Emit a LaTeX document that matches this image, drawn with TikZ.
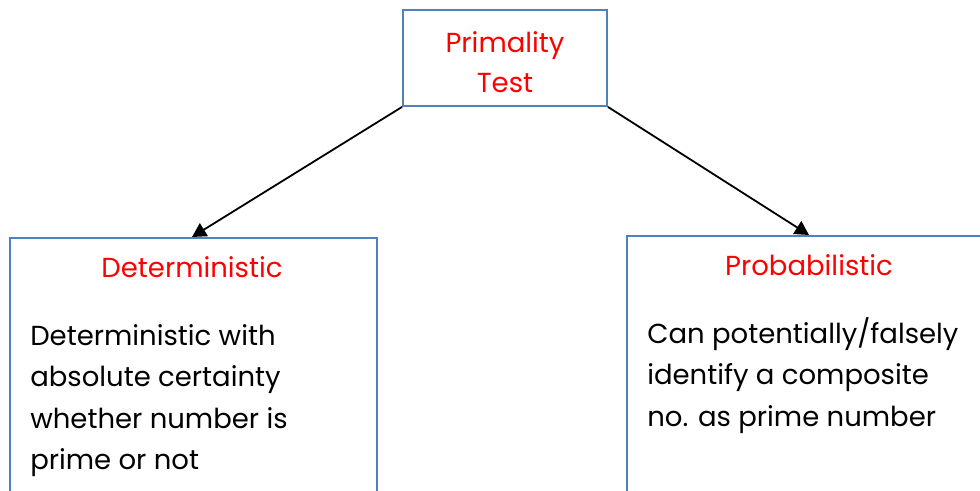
\documentclass[tikz,border=0pt]{standalone}
\usepackage{fontspec}
\setmainfont{Poppins}
\usetikzlibrary{positioning,arrows.meta}
\definecolor{boxblue}{RGB}{79,129,189}
\definecolor{headred}{RGB}{255,0,0}

\begin{document}
\begin{tikzpicture}[x=1pt,y=-1pt,semithick,
    box/.style={draw=boxblue,line width=1.8pt},
    txt/.style={font=\fontsize{27.5}{41.5}\selectfont,inner sep=0pt},
    head/.style={txt,text=headred,align=center,anchor=base},
    body/.style={txt,align=left,anchor=base west},
    link/.style={-{Triangle[length=14pt,width=15pt]},line width=1.8pt}]
      \useasboundingbox (0,0) rectangle (980,490);
      \clip (0,0) rectangle (980,490);
      % boxes
      \node[box,minimum width=204pt,minimum height=96pt] (test) at (505,58) {};
      \node[box,minimum width=367pt,minimum height=300pt,anchor=north west] (det) at (9,237) {};
      \node[box,minimum width=364pt,minimum height=300pt,anchor=north west] (prob) at (626,235) {};
      % texts (base = last line)
      \node[head,font=\fontsize{27.5}{40}\selectfont] (testtext) at (505,92) {Primality\\Test};
      \node[head] (dethead) at (192,277) {Deterministic};
      \node[head] (probhead) at (809,275) {Probabilistic};
      \node[body] (detbody) at (30,469.5) {Deterministic with\\absolute certainty\\whether number is\\prime or not};
      \node[body] (probbody) at (647,426) {Can potentially/falsely\\identify a composite\\no. as prime number};

      \draw[link] (test.south west) -- (det.north -| dethead);
      \draw[link] (test.south east) -- (prob.north -| probhead);
    \end{tikzpicture}
\end{document}
